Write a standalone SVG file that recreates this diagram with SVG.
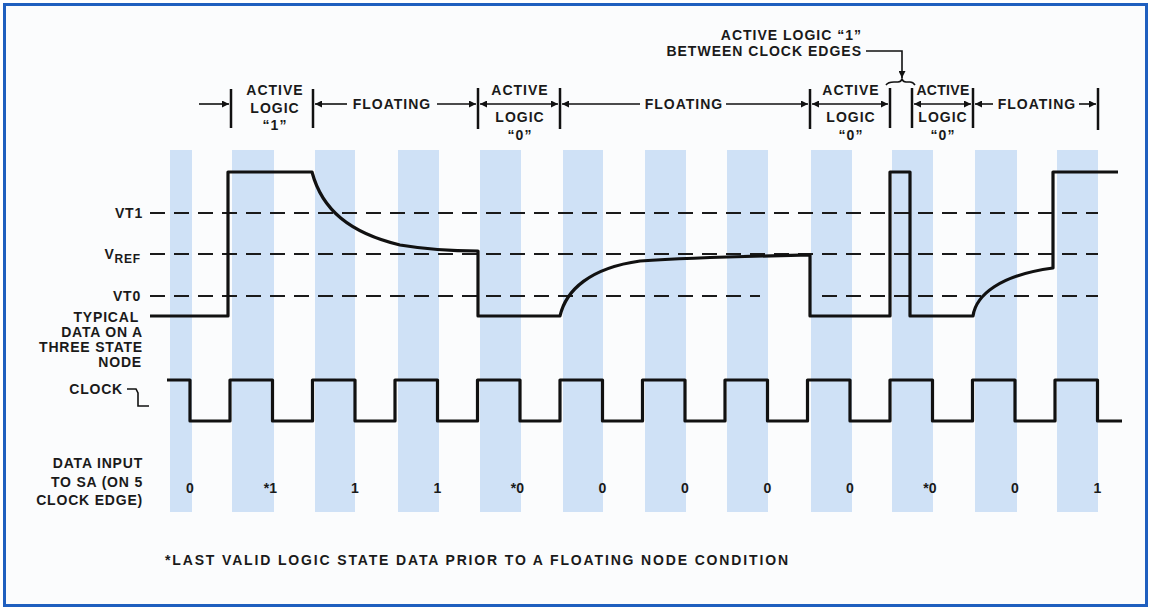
<svg xmlns="http://www.w3.org/2000/svg" width="1153" height="609" viewBox="0 0 1153 609">
<defs>
<style>
.t{font-family:"Liberation Sans",Arial,sans-serif;font-weight:bold;fill:#1a1a1a}
.lbl{font-size:14px;letter-spacing:0.8px}
.num{font-size:14px}
.top{font-size:14px;letter-spacing:1px;text-anchor:middle}
.band{fill:#cfe1f6}
.dash{stroke:#1a1a1a;stroke-width:2.2;stroke-dasharray:15 9;fill:none}
.wave{stroke:#111;stroke-width:3.2;fill:none;stroke-linejoin:round}
.bar{stroke:#111;stroke-width:2.5}
.ln{stroke:#111;stroke-width:1.6;fill:none}
</style>
<marker id="ah" viewBox="0 0 10 10" refX="10" refY="5" markerWidth="9" markerHeight="7" markerUnits="userSpaceOnUse" orient="auto-start-reverse">
<path d="M0,0 L10,5 L0,10 z" fill="#111"/>
</marker>
</defs>
<rect x="4.5" y="4.5" width="1142" height="601" fill="#fbfcfd" stroke="#1f5fbf" stroke-width="3"/>
<g id="bands">
<rect class="band" x="170" y="150" width="22" height="362"/>
<rect class="band" x="232" y="150" width="42" height="362"/>
<rect class="band" x="315" y="150" width="40" height="362"/>
<rect class="band" x="398" y="150" width="41" height="362"/>
<rect class="band" x="480" y="150" width="41" height="362"/>
<rect class="band" x="563" y="150" width="40" height="362"/>
<rect class="band" x="645" y="150" width="41" height="362"/>
<rect class="band" x="727" y="150" width="41" height="362"/>
<rect class="band" x="811" y="150" width="41" height="362"/>
<rect class="band" x="892" y="150" width="41" height="362"/>
<rect class="band" x="975" y="150" width="42" height="362"/>
<rect class="band" x="1057" y="150" width="41" height="362"/>
</g>
<g id="levels">
<line class="dash" x1="150" y1="213" x2="1098" y2="213"/>
<line class="dash" x1="150" y1="254" x2="1098" y2="254"/>
<line class="dash" x1="150" y1="296" x2="760" y2="296"/>
<line class="dash" x1="822" y1="296" x2="1098" y2="296"/>
<text class="t lbl" x="143" y="218" text-anchor="end">VT1</text>
<text class="t lbl" x="141" y="259" text-anchor="end">V<tspan font-size="12" dy="4">REF</tspan></text>
<text class="t lbl" x="141" y="301" text-anchor="end">VT0</text>
</g>
<g id="data-node">
<path class="wave" d="M150,316 H228 V172 H312 C322,210 350,233 400,245 C430,250 460,251 478,251 V316 H560 C566,290 590,268 640,261 C700,257 760,256 810,255 V316 H890 V172 H910 V316 H973 C976,295 1000,275 1053,268 V172 H1118"/>
<text class="t lbl" text-anchor="end"><tspan x="139" y="322">TYPICAL</tspan><tspan x="143" y="337">DATA ON A</tspan><tspan x="143" y="352">THREE STATE</tspan><tspan x="142" y="367">NODE</tspan></text>
</g>
<g id="clock">
<path class="wave" d="M167,380 H190 V421 H230 V380 H272.5 V421 H312.5 V380 H355 V421 H395 V380 H437.5 V421 H477.5 V380 H520 V421 H560 V380 H602.5 V421 H642.5 V380 H685 V421 H725 V380 H767.5 V421 H807.5 V380 H850 V421 H890 V380 H932.5 V421 H972.5 V380 H1015 V421 H1055 V380 H1097.5 V421 H1122"/>
<text class="t lbl" x="123" y="394" text-anchor="end">CLOCK</text>
<path class="ln" d="M127,389 H136 L138,393 V406 H149" stroke-width="1.8"/>
</g>
<g id="data-input">
<text class="t lbl" text-anchor="end"><tspan x="143" y="468">DATA INPUT</tspan><tspan x="143" y="487">TO SA (ON 5</tspan><tspan x="143" y="505">CLOCK EDGE)</tspan></text>
<g class="t num">
<text x="190" y="493" text-anchor="middle">0</text>
<text x="277" y="493" text-anchor="end">*1</text>
<text x="355" y="493" text-anchor="middle">1</text>
<text x="437.5" y="493" text-anchor="middle">1</text>
<text x="524" y="493" text-anchor="end">*0</text>
<text x="602.5" y="493" text-anchor="middle">0</text>
<text x="685" y="493" text-anchor="middle">0</text>
<text x="767.5" y="493" text-anchor="middle">0</text>
<text x="850" y="493" text-anchor="middle">0</text>
<text x="936.5" y="493" text-anchor="end">*0</text>
<text x="1015" y="493" text-anchor="middle">0</text>
<text x="1097.5" y="493" text-anchor="middle">1</text>
</g>
</g>
<g id="intervals">
<g id="bars">
<line class="bar" x1="231" y1="89" x2="231" y2="128"/>
<line class="bar" x1="313" y1="89" x2="313" y2="128"/>
<line class="bar" x1="478" y1="88" x2="478" y2="129"/>
<line class="bar" x1="560" y1="88" x2="560" y2="129"/>
<line class="bar" x1="810" y1="89" x2="810" y2="129"/>
<line class="bar" x1="890" y1="88" x2="890" y2="128"/>
<line class="bar" x1="912" y1="88" x2="912" y2="128"/>
<line class="bar" x1="973" y1="88" x2="973" y2="128"/>
<line class="bar" x1="1098" y1="88" x2="1098" y2="130"/>
</g>
<g id="arrows">
<line class="ln" x1="199" y1="104" x2="229" y2="104" marker-end="url(#ah)"/>
<line class="ln" x1="347" y1="104" x2="315" y2="104" marker-end="url(#ah)"/>
<line class="ln" x1="437" y1="104" x2="476" y2="104" marker-end="url(#ah)"/>
<line class="ln" x1="480" y1="104" x2="558" y2="104" marker-start="url(#ah)" marker-end="url(#ah)"/>
<line class="ln" x1="640" y1="104" x2="562" y2="104" marker-end="url(#ah)"/>
<line class="ln" x1="726" y1="104" x2="808" y2="104" marker-end="url(#ah)"/>
<line class="ln" x1="812" y1="104" x2="888" y2="104" marker-start="url(#ah)" marker-end="url(#ah)"/>
<line class="ln" x1="914" y1="104" x2="971" y2="104" marker-start="url(#ah)" marker-end="url(#ah)"/>
<line class="ln" x1="993" y1="104" x2="975" y2="104" marker-end="url(#ah)"/>
<line class="ln" x1="1079" y1="104" x2="1096" y2="104" marker-end="url(#ah)"/>
<path class="ln" d="M866,51 H902 V78" marker-end="url(#ah)"/>
<path class="ln" d="M886,85 Q888,82 894,82 H898 Q901,82 902,79 Q903,82 906,82 H910 Q913,82 915,85" stroke-width="1.8"/>
</g>
<g id="interval-labels" class="t top">
<text x="275" y="95">ACTIVE</text>
<text x="275" y="113">LOGIC</text>
<text x="275" y="130">“1”</text>
<text x="392" y="109">FLOATING</text>
<text x="520" y="95">ACTIVE</text>
<text x="520" y="122">LOGIC</text>
<text x="520" y="140">“0”</text>
<text x="684" y="109">FLOATING</text>
<text x="851" y="95">ACTIVE</text>
<text x="851" y="122">LOGIC</text>
<text x="851" y="140">“0”</text>
<text x="943" y="95" letter-spacing="0.3">ACTIVE</text>
<text x="943" y="122">LOGIC</text>
<text x="943" y="140">“0”</text>
<text x="1037" y="109">FLOATING</text>
</g>
<text class="t top" x="862" y="40" style="text-anchor:end">ACTIVE LOGIC “1”</text>
<text class="t top" x="862" y="56" style="text-anchor:end">BETWEEN CLOCK EDGES</text>
</g>
<text id="footnote" class="t num" x="165" y="565" textLength="623" lengthAdjust="spacing">*LAST VALID LOGIC STATE DATA PRIOR TO A FLOATING NODE CONDITION</text>
</svg>
